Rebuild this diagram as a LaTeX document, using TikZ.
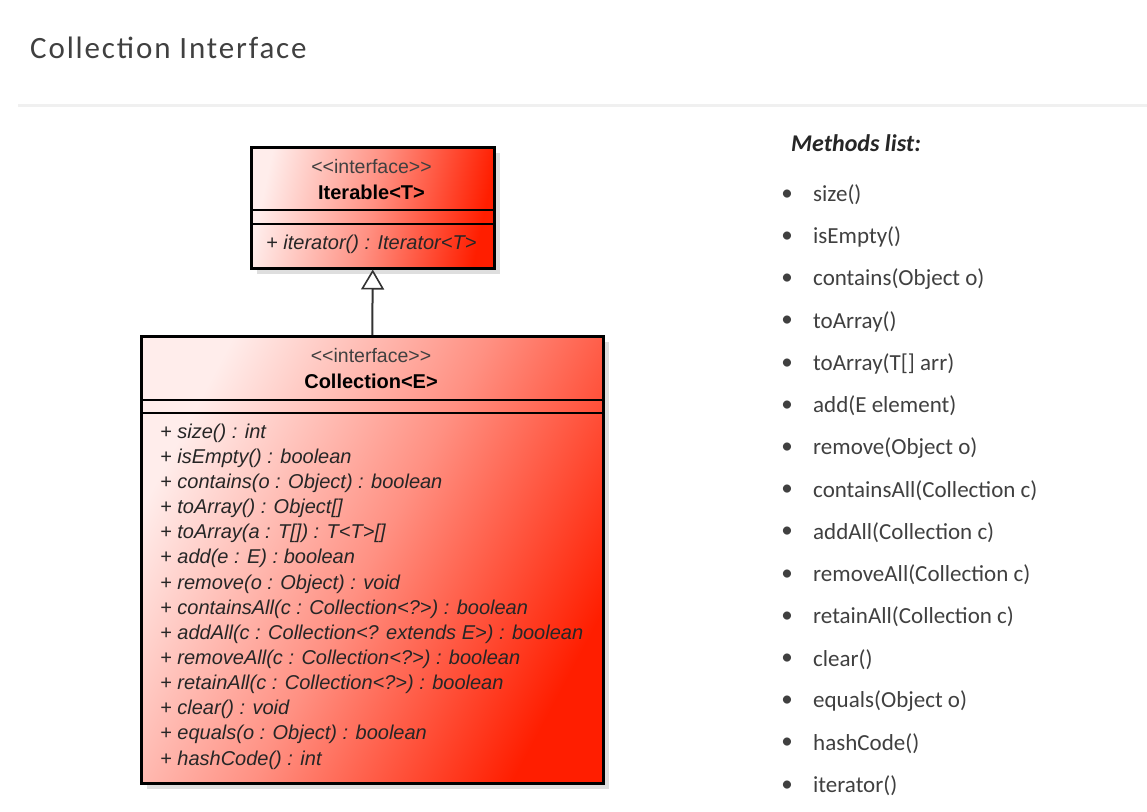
\documentclass[tikz,border=0pt]{standalone}
\usepackage{fontspec}
\setmainfont{Liberation Sans}
\newfontfamily\slidefont{Carlito}
\newfontfamily\titlefont[LetterSpace=6]{Carlito}
\usetikzlibrary{arrows.meta,shadows}
\definecolor{umllight}{HTML}{FFEDEB}
\definecolor{umlmid}{HTML}{FF9082}
\definecolor{umlred}{HTML}{FF1E00}
\definecolor{slidetext}{HTML}{404040}
\begin{document}
\begin{tikzpicture}[x=1pt, y=-1pt,
      every node/.style={inner sep=0pt},
      umlbox/.style={draw=black, line width=2.5pt, anchor=north west,
        top color=umllight, bottom color=umlred, middle color=umlmid, shading angle=#1,
        drop shadow={shadow xshift=6pt, shadow yshift=-6pt, opacity=1, fill=black!13}},
      sepline/.style={draw=black, line width=1.6pt},
      stereo/.style={font=\fontsize{19.5}{21}\selectfont, text=black!75},
      clsname/.style={font=\fontsize{20}{22}\selectfont\bfseries},
      method/.style={anchor=west, font=\fontsize{20}{22}\selectfont\itshape, text=black!85},
      gen/.style={-{Triangle[fill=white, length=20pt, width=23pt, line width=1.6pt]}, line width=2pt, draw=black!80},
      item/.style={anchor=west, font=\slidefont\fontsize{23}{26}\selectfont, text=slidetext},
      bul/.style={font=\slidefont\fontsize{23}{26}\selectfont, text=slidetext}
  ]
    \useasboundingbox[fill=white] (0,0) rectangle (1147,811);

    % slide title
    \node[anchor=west, font=\titlefont\fontsize{31}{34}\selectfont, text=slidetext] (title) at (30,48) {Collection Interface};
    \draw[line width=3pt, black!6] (18,105) -- (1147,105);

    % uml classes
    \node[umlbox=78, minimum width=243pt, minimum height=121pt] (iterable) at (250,146) {};
    \draw[sepline] ([yshift=-64pt]iterable.north west) -- ([yshift=-64pt]iterable.north east);
    \draw[sepline] ([yshift=-78pt]iterable.north west) -- ([yshift=-78pt]iterable.north east);
    \node[stereo] (itstereo) at (371.5,167) {{<}{<}interface{>}{>}};
    \node[clsname] (itname) at (371.5,192) {Iterable<T>};
    \node[method] (itm) at (266,244) {+ iterator() : Iterator<T>};

    \node[umlbox=62, minimum width=462pt, minimum height=447pt] (collection) at (140,335) {};
    \draw[sepline] ([yshift=-65pt]collection.north west) -- ([yshift=-65pt]collection.north east);
    \draw[sepline] ([yshift=-78pt]collection.north west) -- ([yshift=-78pt]collection.north east);
    \node[stereo] (costereo) at (371,356) {{<}{<}interface{>}{>}};
    \node[clsname] (coname) at (371,381) {Collection<E>};
    \foreach \m [count=\i, evaluate=\i as \y using 433+(\i-1)*25.15] in {
        {+ size() : int}, {+ isEmpty() : boolean}, {+ contains(o : Object) : boolean},
        {+ toArray() : Object[]}, {+ toArray(a : T[]) : T<T>[]}, {+ add(e : E) : boolean},
        {+ remove(o : Object) : void}, {+ containsAll(c : Collection<?>) : boolean},
        {+ addAll(c : Collection<? extends E>) : boolean}, {+ removeAll(c : Collection<?>) : boolean},
        {+ retainAll(c : Collection<?>) : boolean}, {+ clear() : void},
        {+ equals(o : Object) : boolean}, {+ hashCode() : int}} {
      \node[method] (cm\i) at (160,\y) {\m};
    }

    \draw[gen] (collection.north) -- (iterable.south);

    % methods list
    \node[anchor=west, font=\slidefont\fontsize{24}{26}\selectfont\bfseries\itshape, text=black!85] (listhead) at (791,143) {Methods list:};
    \foreach \m [count=\i, evaluate=\i as \y using 195+(\i-1)*42.2] in {
        size(), isEmpty(), contains(Object o), toArray(), {toArray(T[] arr)}, add(E element),
        remove(Object o), containsAll(Collection c), addAll(Collection c), removeAll(Collection c),
        retainAll(Collection c), clear(), equals(Object o), hashCode(), iterator()} {
      \node[bul] (b\i) at (787,\y) {\textbullet};
      \node[item] (li\i) at (813,\y) {\m};
    }
\end{tikzpicture}
\end{document}
